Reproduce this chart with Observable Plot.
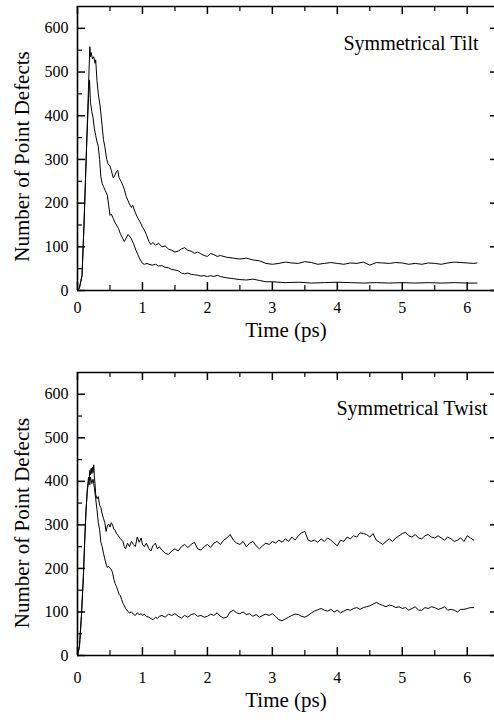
<!DOCTYPE html>
<html><head><meta charset="utf-8">
<script src="https://cdn.jsdelivr.net/npm/d3@7"></script>
<script src="https://cdn.jsdelivr.net/npm/@observablehq/plot@0.6"></script>
<style>
body{margin:0;background:#fff;}
#chart svg{display:block;}
</style>
</head><body><div id="chart"></div>
<script>
const xMajor = [0, 1, 2, 3, 4, 5, 6];
const xMinor = [0.5, 1.5, 2.5, 3.5, 4.5, 5.5];
const yMajor = [0, 100, 200, 300, 400, 500, 600];
const yMinor = [50, 150, 250, 350, 450, 550];
const xTitle = "Time (ps)";
const yTitle = "Number of Point Defects";
const panelTitles = ["Symmetrical Tilt", "Symmetrical Twist"];

// Symmetrical Tilt: [time (ps), defects]
const tiltUpper = [[0,0],[0.03,6],[0.07,35],[0.1,150],[0.14,330],[0.17,470],[0.19,558],[0.2,535],[0.21,545],[0.23,530],[0.25,535],[0.27,520],[0.28,528],[0.3,480],[0.32,450],[0.35,420],[0.37,390],[0.4,345],[0.42,330],[0.45,300],[0.47,290],[0.5,285],[0.52,275],[0.55,258],[0.57,262],[0.6,272],[0.62,275],[0.64,258],[0.67,250],[0.7,240],[0.72,232],[0.75,215],[0.78,205],[0.8,198],[0.83,190],[0.85,195],[0.88,182],[0.9,175],[0.93,165],[0.96,158],[1.0,145],[1.03,138],[1.06,128],[1.1,112],[1.13,105],[1.16,110],[1.2,104],[1.25,108],[1.3,100],[1.35,102],[1.4,95],[1.45,92],[1.5,88],[1.55,90],[1.6,95],[1.65,98],[1.7,92],[1.75,90],[1.8,85],[1.85,88],[1.9,84],[1.95,80],[2.0,78],[2.05,85],[2.1,82],[2.15,78],[2.2,80],[2.3,76],[2.4,74],[2.5,72],[2.6,74],[2.7,70],[2.8,68],[2.9,62],[3.0,60],[3.1,62],[3.2,65],[3.3,63],[3.4,62],[3.5,66],[3.6,64],[3.7,60],[3.8,62],[3.9,64],[4.0,62],[4.1,60],[4.2,63],[4.3,62],[4.4,65],[4.5,58],[4.6,64],[4.7,63],[4.8,62],[4.9,64],[5.0,63],[5.1,60],[5.2,62],[5.3,60],[5.4,63],[5.5,62],[5.6,60],[5.7,63],[5.8,65],[5.9,64],[6.0,63],[6.1,62],[6.15,63]];
const tiltLower = [[0,0],[0.03,6],[0.07,35],[0.1,150],[0.14,330],[0.17,440],[0.185,482],[0.2,430],[0.22,410],[0.24,395],[0.26,370],[0.28,355],[0.3,340],[0.32,330],[0.34,300],[0.36,260],[0.38,245],[0.4,238],[0.43,228],[0.46,218],[0.48,195],[0.5,172],[0.52,175],[0.55,165],[0.58,155],[0.6,150],[0.63,142],[0.66,130],[0.7,118],[0.72,112],[0.75,120],[0.78,128],[0.8,125],[0.83,118],[0.86,108],[0.9,92],[0.93,82],[0.96,72],[1.0,62],[1.03,60],[1.07,62],[1.1,60],[1.15,58],[1.2,60],[1.25,56],[1.3,57],[1.35,53],[1.4,52],[1.45,48],[1.5,47],[1.55,45],[1.6,40],[1.65,38],[1.7,40],[1.75,37],[1.8,36],[1.85,35],[1.9,33],[1.95,34],[2.0,32],[2.05,34],[2.1,32],[2.15,35],[2.2,32],[2.3,29],[2.4,27],[2.5,25],[2.6,24],[2.7,26],[2.8,23],[2.9,20],[3.0,20],[3.2,18],[3.4,19],[3.6,17],[3.8,18],[4.0,19],[4.2,18],[4.4,17],[4.6,18],[4.8,17],[5.0,18],[5.2,17],[5.4,18],[5.6,17],[5.8,18],[6.0,17],[6.15,17]];

// Symmetrical Twist
const twistUpper = [[0,0],[0.03,20],[0.06,90],[0.09,180],[0.11,260],[0.13,330],[0.15,380],[0.17,410],[0.18,400],[0.19,425],[0.2,415],[0.21,430],[0.22,418],[0.23,432],[0.24,420],[0.25,438],[0.26,410],[0.27,395],[0.28,370],[0.3,360],[0.32,365],[0.34,345],[0.36,340],[0.38,325],[0.4,315],[0.42,305],[0.44,285],[0.46,298],[0.48,302],[0.5,295],[0.52,305],[0.54,300],[0.56,290],[0.58,288],[0.6,280],[0.63,275],[0.66,268],[0.7,262],[0.72,250],[0.74,245],[0.77,258],[0.8,250],[0.83,262],[0.86,255],[0.89,250],[0.92,272],[0.95,260],[0.98,270],[1.0,255],[1.03,250],[1.06,258],[1.1,245],[1.13,240],[1.16,252],[1.2,258],[1.23,245],[1.26,250],[1.3,242],[1.35,235],[1.4,232],[1.45,240],[1.5,245],[1.55,240],[1.6,250],[1.65,255],[1.7,248],[1.75,255],[1.8,260],[1.85,245],[1.9,242],[1.95,250],[2.0,255],[2.05,248],[2.1,258],[2.15,262],[2.2,255],[2.25,265],[2.3,270],[2.35,278],[2.4,265],[2.45,258],[2.5,255],[2.55,262],[2.6,250],[2.65,258],[2.7,262],[2.75,252],[2.8,245],[2.85,252],[2.9,258],[2.95,255],[3.0,262],[3.05,258],[3.1,265],[3.15,260],[3.2,268],[3.25,262],[3.3,272],[3.35,265],[3.4,275],[3.45,282],[3.5,285],[3.55,265],[3.6,262],[3.65,265],[3.7,260],[3.75,268],[3.8,262],[3.85,270],[3.9,265],[3.95,258],[4.0,252],[4.05,265],[4.1,262],[4.15,272],[4.2,268],[4.25,275],[4.3,272],[4.35,282],[4.4,280],[4.45,278],[4.5,272],[4.55,280],[4.6,265],[4.65,260],[4.7,255],[4.75,262],[4.8,268],[4.85,262],[4.9,270],[4.95,275],[5.0,280],[5.05,283],[5.1,275],[5.15,272],[5.2,278],[5.25,270],[5.3,268],[5.35,275],[5.4,278],[5.45,272],[5.5,270],[5.55,275],[5.6,270],[5.65,265],[5.7,272],[5.75,268],[5.8,262],[5.85,265],[5.9,270],[5.95,262],[6.0,275],[6.05,270],[6.1,265]];
const twistLower = [[0,0],[0.03,20],[0.06,90],[0.09,180],[0.11,260],[0.13,330],[0.15,375],[0.17,400],[0.19,392],[0.2,410],[0.22,395],[0.24,405],[0.26,385],[0.28,360],[0.3,335],[0.32,305],[0.34,290],[0.36,260],[0.38,250],[0.4,235],[0.42,222],[0.44,210],[0.46,202],[0.48,205],[0.5,200],[0.52,198],[0.54,190],[0.56,175],[0.58,165],[0.6,158],[0.62,150],[0.64,140],[0.66,138],[0.68,128],[0.7,120],[0.72,115],[0.74,108],[0.77,102],[0.8,98],[0.83,100],[0.86,95],[0.89,92],[0.92,98],[0.95,94],[0.98,96],[1.0,92],[1.03,95],[1.06,90],[1.1,88],[1.13,85],[1.16,82],[1.2,88],[1.23,85],[1.26,90],[1.3,92],[1.35,88],[1.4,95],[1.45,92],[1.5,96],[1.55,90],[1.6,86],[1.65,92],[1.7,88],[1.75,94],[1.8,96],[1.85,90],[1.9,92],[1.95,88],[2.0,90],[2.05,95],[2.1,92],[2.15,98],[2.2,90],[2.25,86],[2.3,88],[2.35,100],[2.4,104],[2.45,98],[2.5,96],[2.55,100],[2.6,94],[2.65,96],[2.7,90],[2.75,94],[2.8,88],[2.85,92],[2.9,95],[2.95,92],[3.0,96],[3.05,90],[3.1,82],[3.15,80],[3.2,84],[3.25,88],[3.3,92],[3.35,95],[3.4,94],[3.45,90],[3.5,88],[3.55,92],[3.6,98],[3.65,102],[3.7,105],[3.75,108],[3.8,104],[3.85,102],[3.9,106],[3.95,100],[4.0,104],[4.05,98],[4.1,102],[4.15,106],[4.2,104],[4.25,108],[4.3,110],[4.35,106],[4.4,110],[4.45,112],[4.5,114],[4.55,118],[4.6,122],[4.65,118],[4.7,115],[4.75,112],[4.8,116],[4.85,114],[4.9,110],[4.95,112],[5.0,108],[5.05,110],[5.1,104],[5.15,108],[5.2,112],[5.25,104],[5.3,104],[5.35,110],[5.4,108],[5.45,112],[5.5,110],[5.55,106],[5.6,108],[5.65,112],[5.7,104],[5.75,106],[5.8,104],[5.85,100],[5.9,106],[5.95,106],[6.0,108],[6.05,110],[6.1,110]];

const W = 494, ML = 77, MR = 0;
const FONT = "'Liberation Serif', 'Times New Roman', serif";
const toRows = (arr) => arr.map(([t, v]) => ({t, v}));

function panel(cfg) {
  const pw = W - ML - MR;
  const ph = cfg.height - cfg.marginTop - cfg.marginBottom;
  const maj = 8, mnr = 5;
  return Plot.plot({
    width: W, height: cfg.height,
    marginLeft: ML, marginRight: MR, marginTop: cfg.marginTop, marginBottom: cfg.marginBottom,
    x: {domain: [0, 6.42], axis: null},
    y: {domain: [0, 650], axis: null},
    style: {fontFamily: FONT, fontSize: "16px", color: "#000", background: "#fff"},
    marks: [
      // curves
      Plot.line(toRows(cfg.upper), {x: "t", y: "v", stroke: "#000", strokeWidth: 1}),
      Plot.line(toRows(cfg.lower), {x: "t", y: "v", stroke: "#000", strokeWidth: 1}),
      // axis lines
      Plot.ruleX([0], {stroke: "#000", strokeWidth: 1.6}),
      Plot.ruleY([0, 650], {stroke: "#000", strokeWidth: 1.6}),
      // inward ticks: bottom
      Plot.tickX(xMajor, {x: d => d, insetTop: ph - maj, stroke: "#000", strokeWidth: 1.5}),
      Plot.tickX(xMinor, {x: d => d, insetTop: ph - mnr, stroke: "#000", strokeWidth: 1.2}),
      // top
      Plot.tickX(xMajor, {x: d => d, insetBottom: ph - maj, stroke: "#000", strokeWidth: 1.5}),
      Plot.tickX(xMinor, {x: d => d, insetBottom: ph - mnr, stroke: "#000", strokeWidth: 1.2}),
      // left
      Plot.tickY(yMajor, {y: d => d, insetRight: pw - maj, stroke: "#000", strokeWidth: 1.5}),
      Plot.tickY(yMinor, {y: d => d, insetRight: pw - mnr, stroke: "#000", strokeWidth: 1.2}),
      // right (major only visible)
      Plot.tickY(yMajor, {y: d => d, insetLeft: pw - 4, stroke: "#000", strokeWidth: 1.5}),
      // tick labels
      Plot.axisX(xMajor, {anchor: "bottom", tickSize: 0, tickPadding: cfg.xPad, fontSize: 16, fontFamily: FONT, fontVariant: "normal", label: null}),
      Plot.axisY(yMajor, {anchor: "left", tickSize: 0, tickPadding: 9, fontSize: 16, fontFamily: FONT, fontVariant: "normal", label: null}),
      // axis titles
      Plot.text([xTitle], {text: d => d, frameAnchor: "bottom", dy: cfg.xTitleDy, fontSize: 21, fontFamily: FONT, fill: "#000"}),
      Plot.text([yTitle], {text: d => d, frameAnchor: "left", textAnchor: "middle", dx: -55, dy: cfg.yTitleDy, rotate: -90, fontSize: 21, fontFamily: FONT, fill: "#000"}),
      // panel title
      Plot.text([cfg.title], {text: d => d, frameAnchor: "top-right", textAnchor: "end", lineAnchor: "bottom", dx: cfg.titleDx, dy: cfg.titleDy, fontSize: 20, fontFamily: FONT, fill: "#000"})
    ]
  });
}

const root = document.getElementById("chart");
root.appendChild(panel({height: 360, marginTop: 6, marginBottom: 70, upper: tiltUpper, lower: tiltLower,
  title: panelTitles[0], titleDx: -16, titleDy: 43, xPad: 11, xTitleDy: 46, yTitleDy: 8}));
root.appendChild(panel({height: 363, marginTop: 12, marginBottom: 68, upper: twistUpper, lower: twistLower,
  title: panelTitles[1], titleDx: -7, titleDy: 42, xPad: 16, xTitleDy: 51, yTitleDy: 9}));
</script>
</body></html>
